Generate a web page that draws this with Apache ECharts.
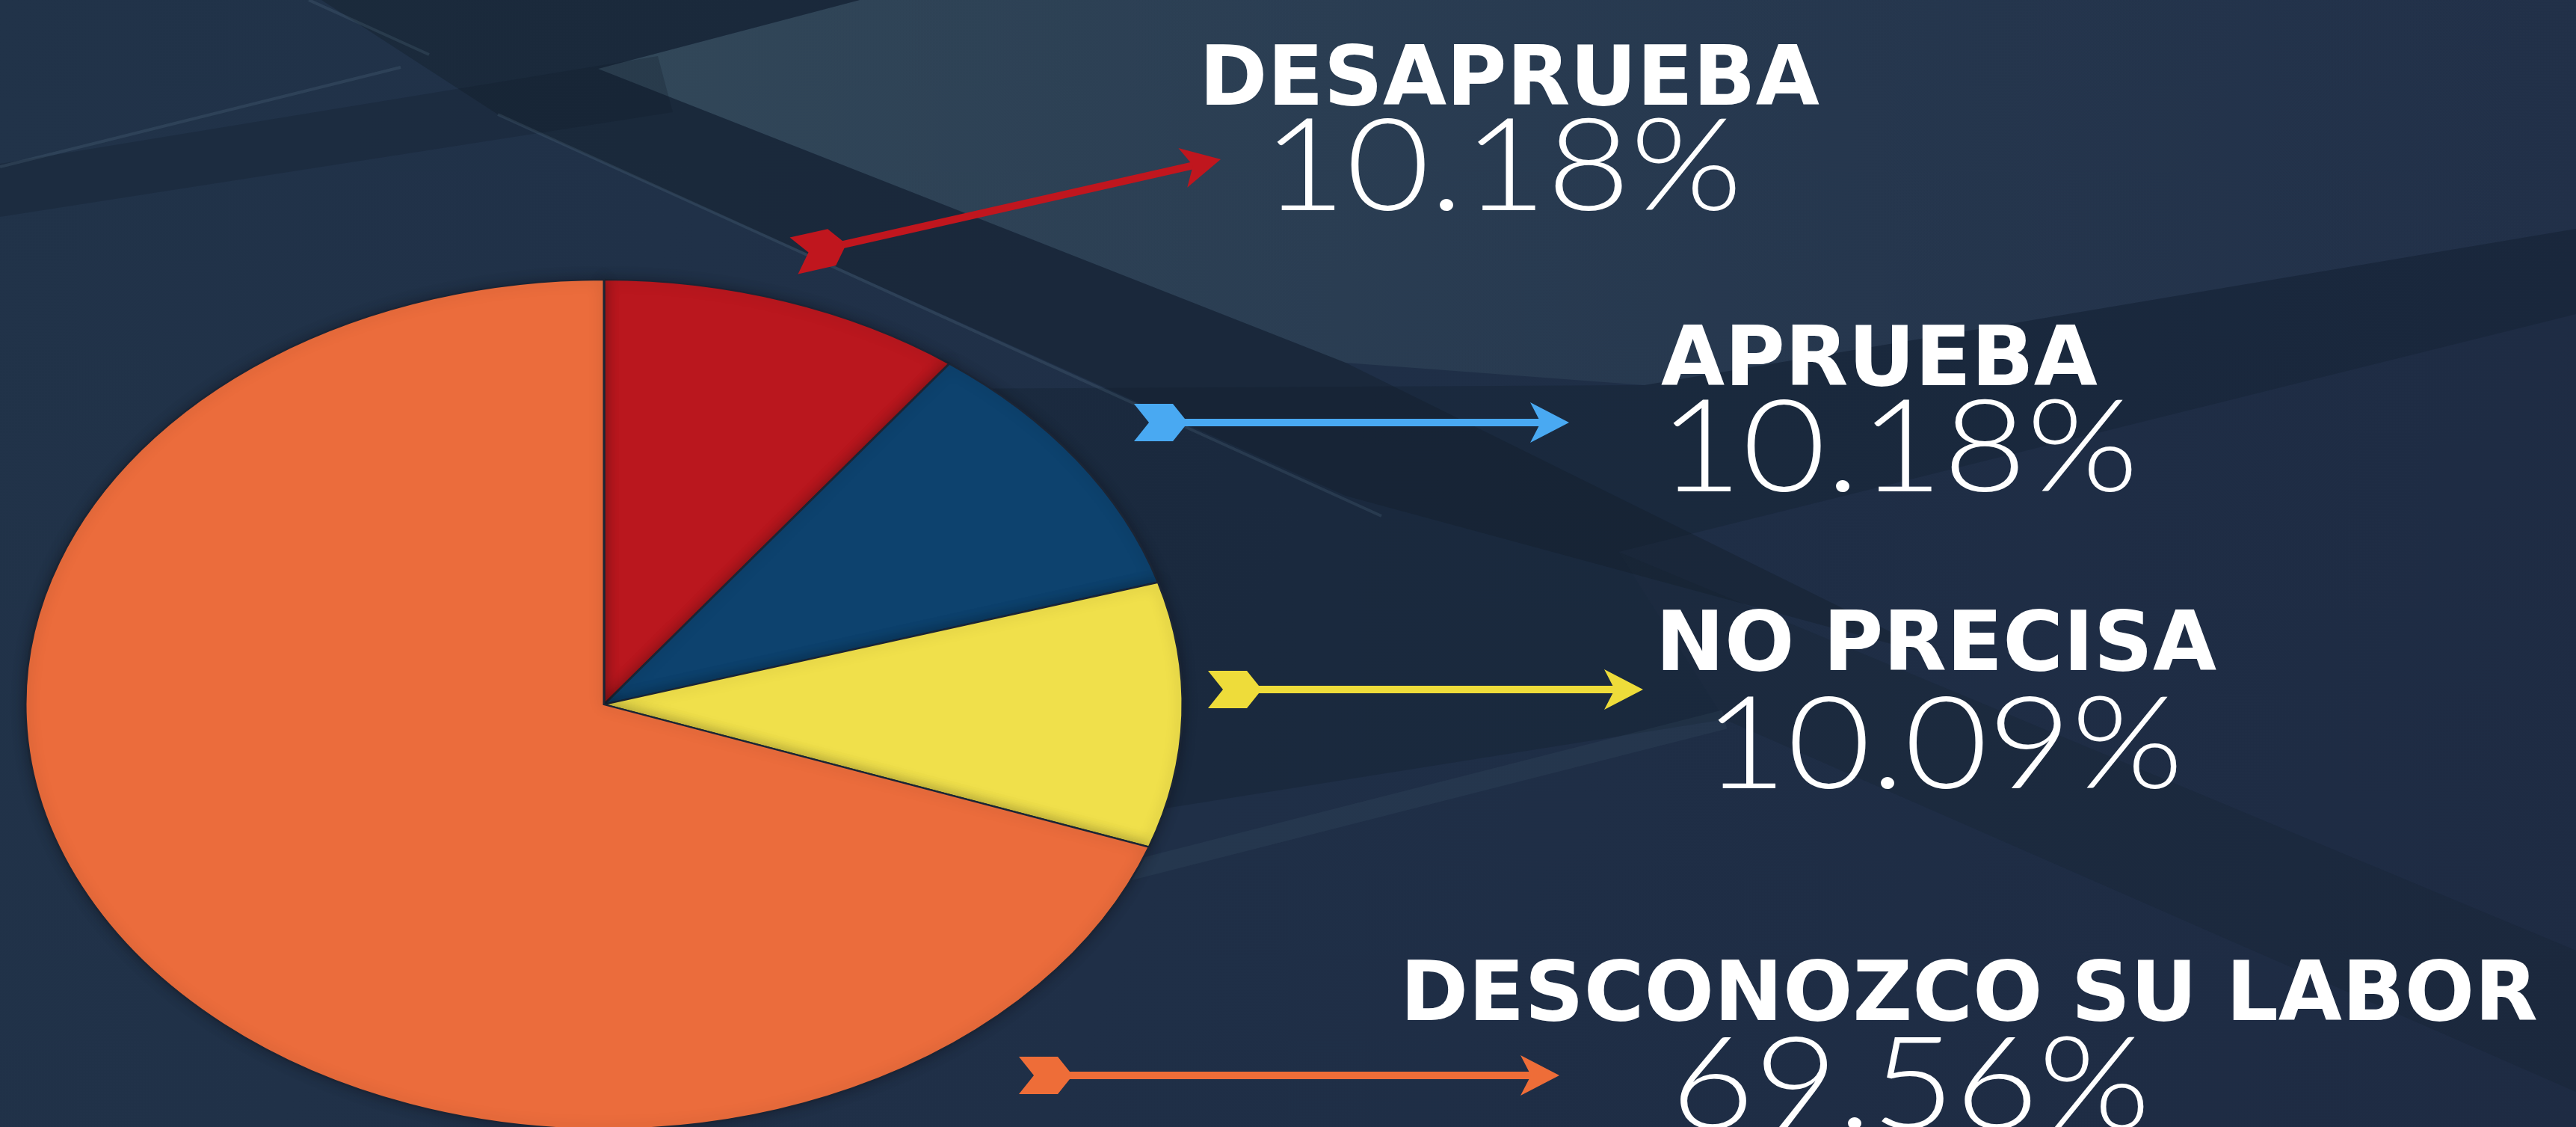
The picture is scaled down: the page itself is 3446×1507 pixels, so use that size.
<!DOCTYPE html>
<html>
<head>
<meta charset="utf-8">
<title>Aprobación</title>
<script src="https://cdn.jsdelivr.net/npm/echarts@6/dist/echarts.min.js"></script>
<style>
  html, body { margin: 0; padding: 0; background: #1f2f47; }
  #chart { width: 3446px; height: 1507px; }
</style>
</head>
<body>
<div id="chart"></div>
<script>
// datos
var categories = ['DESAPRUEBA', 'APRUEBA', 'NO PRECISA', 'DESCONOZCO SU LABOR'];
var values = [10.18, 10.18, 10.09, 69.56];
var sliceColors = ['#BA171E', '#0D426E', '#F0E04B', '#EB6C3C'];
var arrowColors = ['#C0161E', '#49A9F2', '#EEDC3A', '#EE6D38'];

// layout (pixeles)
var pieCenter = [808, 942];
var pieRx = 774;
var pieRy = 568;
var startDeg = -90;          // angulo de inicio (0 = derecha, sentido horario)
var labelPos = [[2019, 111], [2514, 486], [2590, 867], [2634, 1335]];
var numberPos = [[2010, 226], [2540, 602], [2600, 999], [2556, 1454]];
var arrowPos = [
  [1062, 342, 1633, 213],
  [1517, 565, 2099, 565],
  [1616, 922, 2198, 922],
  [1363, 1438, 2086, 1438]
];

var total = values.reduce(function (a, b) { return a + b; }, 0);

function arrow(p, color) {
  var tx = p[0], ty = p[1], hx = p[2], hy = p[3];
  var len = Math.sqrt((hx - tx) * (hx - tx) + (hy - ty) * (hy - ty));
  var dx = (hx - tx) / len, dy = (hy - ty) / len;
  var nx = -dy, ny = dx;
  function pt(u, v) { return [tx + u * dx + v * nx, ty + u * dy + v * ny]; }
  var fw = 72, fp = 20, fh = 25, hl = 52, hh = 27;
  return [
    {
      type: 'polygon', z: 10,
      shape: { points: [pt(0, -fh), pt(fw - fp, -fh), pt(fw, 0), pt(fw - fp, fh), pt(0, fh), pt(fp, 0)] },
      style: { fill: color }
    },
    {
      type: 'line', z: 10,
      shape: { x1: pt(fw - 6, 0)[0], y1: pt(fw - 6, 0)[1], x2: pt(len - hl + 16, 0)[0], y2: pt(len - hl + 16, 0)[1] },
      style: { stroke: color, lineWidth: 10 }
    },
    {
      type: 'polygon', z: 10,
      shape: { points: [pt(len, 0), pt(len - hl, -hh), pt(len - hl + 14, 0), pt(len - hl, hh)] },
      style: { fill: color }
    }
  ];
}

var elements = [];

// fondo: planos difusos
elements.push({
  type: 'polygon', z: -6,
  shape: { points: [[800, 92], [1150, 0], [3446, 0], [3446, 306], [2200, 515], [1800, 485]] },
  style: {
    fill: {
      type: 'linear', x: 0, y: 0, x2: 1, y2: 0,
      colorStops: [
        { offset: 0, color: 'rgba(68, 94, 106, 0.5)' },
        { offset: 0.5, color: 'rgba(60, 84, 102, 0.3)' },
        { offset: 1, color: 'rgba(50, 70, 96, 0.15)' }
      ]
    }
  }
});
elements.push({
  type: 'polygon', z: -5,
  shape: { points: [[430, 0], [1150, 0], [800, 92], [1800, 485], [2600, 880], [1800, 663], [666, 153]] },
  style: { fill: 'rgba(18, 30, 42, 0.42)' }
});
elements.push({
  type: 'polygon', z: -5,
  shape: { points: [[2165, 738], [3446, 1271], [3446, 1460], [2307, 962]] },
  style: { fill: 'rgba(18, 30, 42, 0.22)' }
});
elements.push({
  type: 'polygon', z: -5,
  shape: { points: [[1250, 520], [2200, 515], [3446, 306], [3446, 420], [2165, 738], [2307, 962], [1250, 1130]] },
  style: { fill: 'rgba(18, 30, 42, 0.3)' }
});
elements.push({
  type: 'polygon', z: -5,
  shape: { points: [[0, 219], [880, 75], [900, 150], [0, 290]] },
  style: { fill: 'rgba(18, 30, 42, 0.28)' }
});
elements.push({
  type: 'line', z: -4,
  shape: { x1: 1450, y1: 1180, x2: 2307, y2: 962 },
  style: { stroke: 'rgba(120, 150, 170, 0.08)', lineWidth: 26 }
});
[[413, 0, 574, 73], [666, 153, 1848, 690], [0, 223, 536, 90]].forEach(function (l) {
  elements.push({
    type: 'line', z: -3,
    shape: { x1: l[0], y1: l[1], x2: l[2], y2: l[3] },
    style: { stroke: 'rgba(120, 150, 170, 0.16)', lineWidth: 4 }
  });
});

categories.forEach(function (name, i) {
  elements = elements.concat(arrow(arrowPos[i], arrowColors[i]));
  elements.push({
    type: 'text', z: 10,
    x: labelPos[i][0], y: labelPos[i][1],
    style: {
      text: name, x: 0, y: 0,
      fill: '#ffffff', font: 'bold 110px "DejaVu Sans"',
      align: 'center', verticalAlign: 'middle',
      textAlign: 'center', textVerticalAlign: 'middle'
    }
  });
  elements.push({
    type: 'text', z: 10,
    x: numberPos[i][0], y: numberPos[i][1],
    scaleX: 1.12,
    style: {
      text: values[i].toFixed(2) + '%', x: 0, y: 0,
      fill: '#ffffff', font: '300 172px Lato',
      align: 'center', verticalAlign: 'middle',
      textAlign: 'center', textVerticalAlign: 'middle'
    }
  });
});

var myChart = echarts.init(document.getElementById('chart'));
var option = {
  animation: false,
  backgroundColor: {
    type: 'linear', x: 0, y: 0, x2: 1, y2: 1,
    colorStops: [
      { offset: 0, color: '#213349' },
      { offset: 0.5, color: '#1f2f47' },
      { offset: 1, color: '#1e2b43' }
    ]
  },
  graphic: { elements: elements },
  series: [{
    type: 'custom',
    coordinateSystem: 'none',
    data: values.map(function (v, i) { return { name: categories[i], value: v }; }),
    renderItem: function (params, api) {
      var i = params.dataIndex;
      var before = 0;
      for (var k = 0; k < i; k++) before += values[k];
      var a0 = (startDeg / 180) * Math.PI + before / total * Math.PI * 2;
      var a1 = a0 + api.value(0) / total * Math.PI * 2;
      return {
        type: 'sector',
        x: pieCenter[0], y: pieCenter[1],
        scaleY: pieRy / pieRx,
        shape: { cx: 0, cy: 0, r0: 0, r: pieRx, startAngle: a0, endAngle: a1, clockwise: true },
        style: {
          fill: sliceColors[i],
          stroke: '#1b2535', lineWidth: 3,
          shadowBlur: 18, shadowColor: 'rgba(0, 0, 0, 0.3)'
        }
      };
    }
  }]
};
// mostrar el grafico
myChart.setOption(option);
</script>
</body>
</html>
